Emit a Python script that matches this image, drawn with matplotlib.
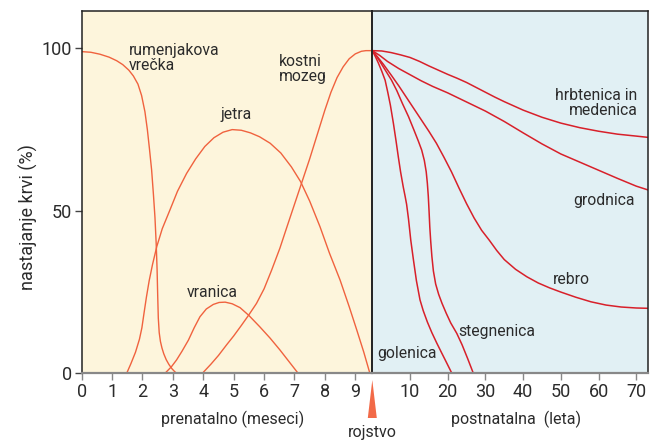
import matplotlib.pyplot as plt
from matplotlib.patches import Polygon

plt.rcParams['font.family'] = ['Roboto', 'DejaVu Sans']

# prenatal curves (x in months, y in %)
yolk_x = [0, 0.3, 0.6, 0.9, 1.15, 1.35, 1.55, 1.7, 1.85, 1.97, 2.08, 2.16, 2.23, 2.3, 2.36, 2.41,
          2.45, 2.48, 2.5, 2.52, 2.55, 2.59, 2.64, 2.7, 2.78, 2.87, 2.97, 3.05, 3.12]
yolk_y = [99, 98.8, 98.2, 97.3, 96.2, 95, 93.3, 91.5, 89, 85.5, 80.5, 75, 69, 62.6, 55, 48,
          40, 32, 24, 17, 12.5, 9.8, 7.8, 6, 4.2, 2.7, 1.4, 0.6, 0]

liver_x = [1.48, 1.62, 1.77, 1.9, 1.98, 2.05, 2.13, 2.22, 2.33, 2.47, 2.65, 2.9, 3.15, 3.45, 3.75, 4.05, 4.35,
           4.65, 4.95, 5.25, 5.55, 5.85, 6.2, 6.55, 6.9, 7.2, 7.5, 7.84, 8.15, 8.5, 8.8, 9.05, 9.28, 9.48]
liver_y = [0, 3, 6.5, 10.5, 14, 18.5, 23.5, 28.5, 33.5, 39, 44.5, 50.2, 56, 61.5, 66, 69.8, 72.5,
           74.2, 75, 74.8, 74, 72.8, 70.8, 67.8, 63.5, 59, 53, 45.1, 37, 28.7, 20.5, 13.3, 6.5, 0]

spleen_x = [2.74, 2.95, 3.12, 3.3, 3.51, 3.7, 3.89, 4.1, 4.33, 4.52, 4.72, 4.95, 5.21, 5.5, 5.86, 6.2, 6.52, 6.82, 7.12]
spleen_y = [0, 2, 4.1, 6.8, 10.2, 14, 17.4, 19.8, 21.2, 21.8, 21.9, 21.4, 20.2, 17.8, 14.3, 10.8, 7.2, 3.6, 0]

marrow_x = [3.97, 4.25, 4.5, 4.77, 5.0, 5.25, 5.5, 5.75, 6.0, 6.25, 6.52, 6.75, 7.0, 7.25, 7.5, 7.75, 8.0,
            8.2, 8.4, 8.6, 8.8, 9.0, 9.2, 9.35, 9.5]
marrow_y = [0, 2.8, 5.5, 8.8, 11.5, 14.7, 18, 21.5, 26, 31.8, 38.5, 45, 52, 59, 66, 73.5, 81,
            86.5, 91, 94.3, 96.8, 98.3, 99.1, 99.3, 99.3]

# postnatal curves (x in years, y in %)
spine_x = [0, 2.5, 5, 7.5, 10, 12.5, 15, 17.5, 20, 22.5, 25, 27.5, 30, 32.5, 35, 37.5, 40, 45, 50, 55, 60, 65, 70, 73.2]
spine_y = [99.3, 99.2, 98.7, 98.0, 97.2, 96.0, 94.6, 93.3, 92.0, 90.8, 89.5, 88.0, 86.5, 85.0, 83.6, 82.3, 81.0,
           78.8, 77.0, 75.6, 74.5, 73.6, 73.0, 72.6]

sternum_x = [0, 2, 4, 7, 10, 13, 16, 20, 25, 30, 35, 40, 45, 50, 55, 60, 65, 70, 73.2]
sternum_y = [99.3, 97.8, 96, 93.8, 91.9, 90, 88.3, 86.3, 83.5, 80.7, 77.5, 74, 70.6, 67.5, 65, 62.5, 60, 57.6, 56.4]

rib_x = [0, 1.5, 3, 5, 7, 9, 11, 13, 15, 17, 19, 21, 23, 25, 27, 29, 31, 33, 35, 38, 41, 44, 47, 50,
         54, 58, 62, 66, 70, 73.2]
rib_y = [99.3, 97.2, 95, 91.8, 88.5, 85, 81.5, 78, 74.5, 70.8, 66.5, 62, 57, 52.2, 47.8, 44, 41, 37.8, 35, 32, 29.7,
         27.8, 26.3, 25, 23.4, 22, 21, 20.4, 20.1, 20]

femur_x = [0, 1, 2, 3.5, 5.1, 6.5, 8, 9.6, 11, 12.2, 13.1, 13.8, 14.3, 14.6, 14.85, 15.05, 15.25, 15.5, 15.8,
           16.2, 16.8, 17.6, 18.5, 19.6, 20.8, 22.4, 23.8, 25.3, 26.8]
femur_y = [99.3, 97.8, 96, 93.2, 90.2, 87, 83, 79, 75, 71.5, 68.7, 65.5, 62, 58.5, 54.5, 50, 45, 40.5, 36,
           31.5, 27.5, 24.3, 21.5, 18.5, 15.5, 12.3, 8.8, 4.5, 0]

tibia_x = [0, 0.8, 1.6, 2.5, 3.4, 4.1, 4.8, 5.6, 6.3, 6.9, 7.5, 8.2, 8.7, 9.1, 9.6, 10.2, 10.9, 11.7,
           12.65, 13.5, 14.6, 15.8, 17.1, 18.3, 19.6, 21.1]
tibia_y = [99.3, 97.5, 95.5, 93, 90.2, 86.5, 82.5, 76.9, 71.5, 66.6, 62, 57.4, 54.5, 52, 47.5, 41, 35, 28.5,
           22.6, 19.3, 15.8, 12.5, 9.3, 6.5, 3.5, 0]

pre_ticks = list(range(10))
post_ticks = [10, 20, 30, 40, 50, 60, 70]
y_ticks = [0, 50, 100]

pre_col = '#f0623e'
post_col = '#d8202a'
txt_col = '#2b2b2b'

W, H = 650, 440
x0, x_mid, x1 = 81.7, 372.3, 648.3
y_bot, y_top = 373.3, 11

fig = plt.figure(figsize=(6.5, 4.4), dpi=100)
axL = fig.add_axes([x0 / W, (H - y_bot) / H, (x_mid - x0) / W, (y_bot - y_top) / H])
axR = fig.add_axes([x_mid / W, (H - y_bot) / H, (x1 - x_mid) / W, (y_bot - y_top) / H], sharey=axL)

axL.set_facecolor('#fdf5dc')
axR.set_facecolor('#e1f0f4')

for x, y in [(yolk_x, yolk_y), (liver_x, liver_y), (spleen_x, spleen_y), (marrow_x, marrow_y)]:
    axL.plot(x, y, color=pre_col, lw=1.0, solid_joinstyle='round')
for x, y in [(spine_x, spine_y), (sternum_x, sternum_y), (rib_x, rib_y), (femur_x, femur_y), (tibia_x, tibia_y)]:
    axR.plot(x, y, color=post_col, lw=1.1, solid_joinstyle='round')

axL.set_xlim(0, 9.56)
axR.set_xlim(0, 73.2)
axL.set_ylim(0, 111.5)

axL.set_xticks(pre_ticks)
axR.set_xticks(post_ticks)
axL.set_yticks(y_ticks)
axL.tick_params(axis='y', length=5, width=1, color='#444', labelsize=13, labelcolor=txt_col, pad=2)
for ax in (axL, axR):
    ax.tick_params(axis='x', length=5, width=1, color='#888', labelsize=13, labelcolor=txt_col, pad=2)
axR.tick_params(axis='y', left=False, labelleft=False)

for ax in (axL, axR):
    for s in ('top', 'left', 'right'):
        ax.spines[s].set_color('#222')
        ax.spines[s].set_linewidth(1.1)
    ax.spines['bottom'].set_color('#888')
    ax.spines['bottom'].set_linewidth(1.6)
axL.spines['right'].set_visible(False)
axR.spines['left'].set_linewidth(1.4)

fig.text(28 / W, 1 - 217 / H, 'nastajanje krvi (%)', rotation=90, ha='center', va='center',
         fontsize=13, color=txt_col)

# curve labels
lab = dict(fontsize=11.3, color=txt_col, linespacing=1.0)
axL.text(1.56, 97, 'rumenjakova\nvrečka', va='center', ha='left', **lab)
axL.text(6.49, 93.6, 'kostni\nmozeg', va='center', ha='left', **lab)
axL.text(4.55, 79.8, 'jetra', va='center', ha='left', **lab)
axL.text(3.47, 25, 'vranica', va='center', ha='left', **lab)
axR.text(70.4, 83.3, 'hrbtenica in\nmedenica', va='center', ha='right', multialignment='right', **lab)
axR.text(69.7, 53.3, 'grodnica', va='center', ha='right', **lab)
axR.text(47.9, 29, 'rebro', va='center', ha='left', **lab)
axR.text(22.7, 12.8, 'stegnenica', va='center', ha='left', **lab)
axR.text(1.3, 6.2, 'golenica', va='center', ha='left', **lab)

fig.text(233 / W, 1 - 419 / H, 'prenatalno (meseci)', ha='center', va='center', fontsize=11.5, color=txt_col)
fig.text(516 / W, 1 - 419 / H, 'postnatalna  (leta)', ha='center', va='center', fontsize=11.5, color=txt_col)
fig.text(x_mid / W, 1 - 432 / H, 'rojstvo', ha='center', va='center', fontsize=11.5, color=txt_col)

tri = Polygon([(x_mid / W, 1 - 380 / H), ((x_mid - 4.5) / W, 1 - 418 / H), ((x_mid + 4.5) / W, 1 - 418 / H)],
              closed=True, transform=fig.transFigure, color='#f26a48', lw=0)
fig.patches.append(tri)

fig.savefig('out.png', dpi=100)
